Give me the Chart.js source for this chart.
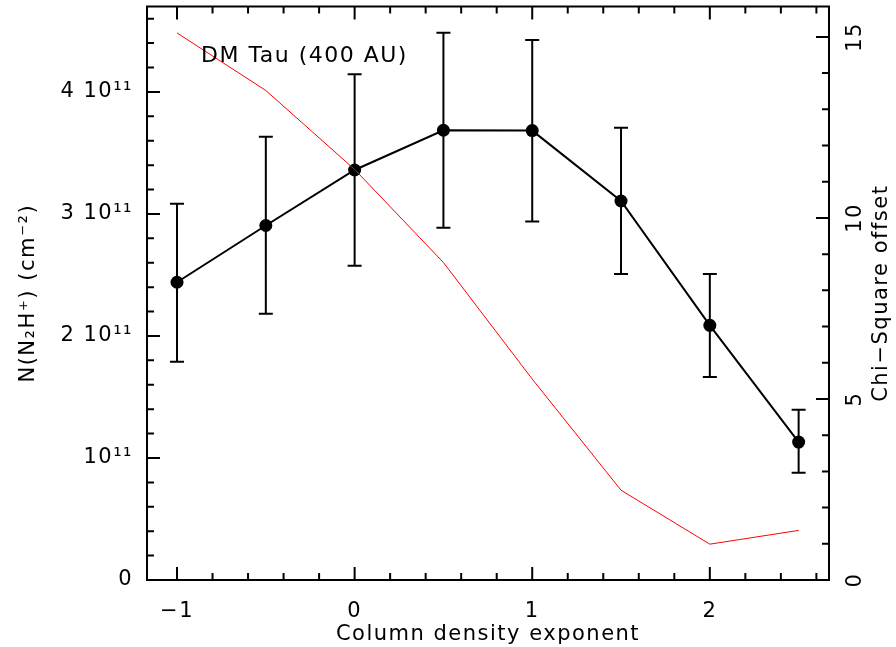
<!DOCTYPE html>
<html>
<head>
<meta charset="utf-8">
<script src="https://cdn.jsdelivr.net/npm/chart.js@4.4.1/dist/chart.umd.min.js"></script>
<style>
  html, body { margin: 0; padding: 0; background: #fff; }
  #wrap { width: 896px; height: 647px; }
</style>
</head>
<body>
<div id="wrap"><canvas id="myChart" width="896" height="647"></canvas></div>
<script>
// column density exponent (x)
const exponents = [-1, -0.5, 0, 0.5, 1, 1.5, 2, 2.5];
// N(N2H+) fitted value and error bar ends, cm^-2 (left axis)
const nBest = [2.44e11, 2.905e11, 3.36e11, 3.686e11, 3.683e11, 3.106e11, 2.087e11, 1.13e11];
const nLow  = [1.789e11, 2.181e11, 2.575e11, 2.886e11, 2.938e11, 2.507e11, 1.664e11, 0.878e11];
const nHigh = [3.084e11, 3.632e11, 4.144e11, 4.485e11, 4.425e11, 3.707e11, 2.507e11, 1.396e11];
// chi-square offset (right axis)
const chiOffset = [15.11, 13.52, 11.34, 8.77, 5.55, 2.48, 0.99, 1.37];

// tick labels
const xTicks = [-1, 0, 1, 2];
const xTickLabels = ['−1', '0', '1', '2'];
const yTicks = [0, 1e11, 2e11, 3e11, 4e11];
const yTickLabels = ['0', '10¹¹', '2 10¹¹', '3 10¹¹', '4 10¹¹'];
const y2Ticks = [0, 5, 10, 15];
const y2TickLabels = ['0', '5', '10', '15'];

const FONT = '"DejaVu Sans", sans-serif';
Chart.defaults.font.family = FONT;
Chart.defaults.font.size = 21;
Chart.defaults.color = '#000';

// frame, inward ticks, error bars, right-hand labels, annotation
const framePlugin = {
    id: 'frame',
    beforeUpdate(chart) {
        chart.ctx.letterSpacing = '1.5px';
    },
    beforeDatasetsDraw(chart) {
        const { ctx, scales: { x, y } } = chart;
        ctx.save();
        ctx.strokeStyle = '#000';
        ctx.lineWidth = 2;
        ctx.beginPath();
        exponents.forEach((e, i) => {
            const px = x.getPixelForValue(e);
            const top = y.getPixelForValue(nHigh[i]);
            const bot = y.getPixelForValue(nLow[i]);
            ctx.moveTo(px, top); ctx.lineTo(px, bot);
            ctx.moveTo(px - 7, top); ctx.lineTo(px + 7, top);
            ctx.moveTo(px - 7, bot); ctx.lineTo(px + 7, bot);
        });
        ctx.stroke();
        ctx.restore();
    },
    afterDraw(chart) {
        const { ctx, chartArea: a, scales: { x, y, y2 } } = chart;
        ctx.save();
        ctx.strokeStyle = '#000';
        ctx.lineWidth = 2;
        ctx.strokeRect(a.left, a.top, a.right - a.left, a.bottom - a.top);

        const MAJ = 13, MIN = 7;
        const tickRun = (scale, step, majorStep, draw) => {
            const n0 = Math.ceil(scale.min / step - 1e-9);
            const n1 = Math.floor(scale.max / step + 1e-9);
            for (let k = n0; k <= n1; k++) {
                const v = k * step;
                const r = v / majorStep;
                const major = Math.abs(r - Math.round(r)) < 1e-6;
                draw(scale.getPixelForValue(v), major ? MAJ : MIN);
            }
        };
        ctx.beginPath();
        tickRun(x, 0.2, 1, (p, len) => {
            ctx.moveTo(p, a.bottom); ctx.lineTo(p, a.bottom - len);
            ctx.moveTo(p, a.top); ctx.lineTo(p, a.top + len);
        });
        tickRun(y, 0.2e11, 1e11, (p, len) => {
            ctx.moveTo(a.left, p); ctx.lineTo(a.left + len, p);
        });
        tickRun(y2, 1, 5, (p, len) => {
            ctx.moveTo(a.right, p); ctx.lineTo(a.right - len, p);
        });
        ctx.stroke();

        ctx.fillStyle = '#000';
        ctx.font = '21px ' + FONT;
        ctx.textAlign = 'center';
        ctx.textBaseline = 'middle';
        y2Ticks.forEach((v, i) => {
            ctx.save();
            ctx.translate(a.right + 27, y2.getPixelForValue(v));
            ctx.rotate(-Math.PI / 2);
            ctx.fillText(y2TickLabels[i], 0, 0);
            ctx.restore();
        });
        ctx.save();
        ctx.translate(a.right + 53, (a.top + a.bottom) / 2);
        ctx.rotate(-Math.PI / 2);
        ctx.fillText('Chi−Square offset', 0, 0);
        ctx.restore();

        ctx.font = '22px ' + FONT;
        ctx.textAlign = 'left';
        ctx.textBaseline = 'alphabetic';
        ctx.fillText('DM Tau (400 AU)', a.left + 54, 62);
        ctx.restore();
    }
};

// no extra room for the first/last tick label, the frame fills the area
const noPad = s => { s.paddingTop = 0; s.paddingBottom = 0; s.paddingLeft = 0; s.paddingRight = 0; };

new Chart(document.getElementById('myChart').getContext('2d'), {
    type: 'line',
    data: {
        datasets: [{
            label: 'N(N2H+)',
            data: exponents.map((e, i) => ({ x: e, y: nBest[i] })),
            yAxisID: 'y',
            borderColor: '#000',
            backgroundColor: '#000',
            borderWidth: 2,
            pointRadius: 6.5,
            pointHoverRadius: 6.5,
            pointBorderWidth: 0,
            order: 2
        }, {
            label: 'Chi-Square offset',
            data: exponents.map((e, i) => ({ x: e, y: chiOffset[i] })),
            yAxisID: 'y2',
            borderColor: '#ff0000',
            borderWidth: 1,
            pointRadius: 0,
            order: 1
        }]
    },
    options: {
        responsive: false,
        animation: false,
        layout: { padding: { top: 2 } },
        plugins: { legend: { display: false }, tooltip: { enabled: false } },
        scales: {
            x: {
                type: 'linear',
                position: 'bottom',
                min: -1.169,
                max: 2.671,
                afterBuildTicks: s => { s.ticks = xTicks.map(v => ({ value: v })); },
                afterFit: s => { s.height = 67; noPad(s); },
                grid: { display: false, drawTicks: false },
                border: { display: false },
                ticks: {
                    padding: 19,
                    maxRotation: 0,
                    autoSkip: false,
                    callback: v => xTickLabels[xTicks.indexOf(v)]
                },
                title: { display: true, text: 'Column density exponent', padding: { top: 0, bottom: 0 } }
            },
            y: {
                type: 'linear',
                position: 'left',
                min: 0,
                max: 4.70e11,
                afterBuildTicks: s => { s.ticks = yTicks.map(v => ({ value: v })); },
                afterFit: s => { s.width = 147; noPad(s); },
                grid: { display: false, drawTicks: false },
                border: { display: false },
                ticks: {
                    padding: 14,
                    autoSkip: false,
                    callback: v => yTickLabels[yTicks.indexOf(v)]
                },
                title: { display: true, text: 'N(N₂H⁺) (cm⁻²)', padding: { top: 16, bottom: 0 } }
            },
            y2: {
                type: 'linear',
                position: 'right',
                min: 0,
                max: 15.84,
                afterBuildTicks: s => { s.ticks = y2Ticks.map(v => ({ value: v })); },
                afterFit: s => { s.width = 67; noPad(s); },
                grid: { display: false, drawTicks: false },
                border: { display: false },
                ticks: { display: false }
            }
        }
    },
    plugins: [framePlugin]
});
</script>
</body>
</html>
